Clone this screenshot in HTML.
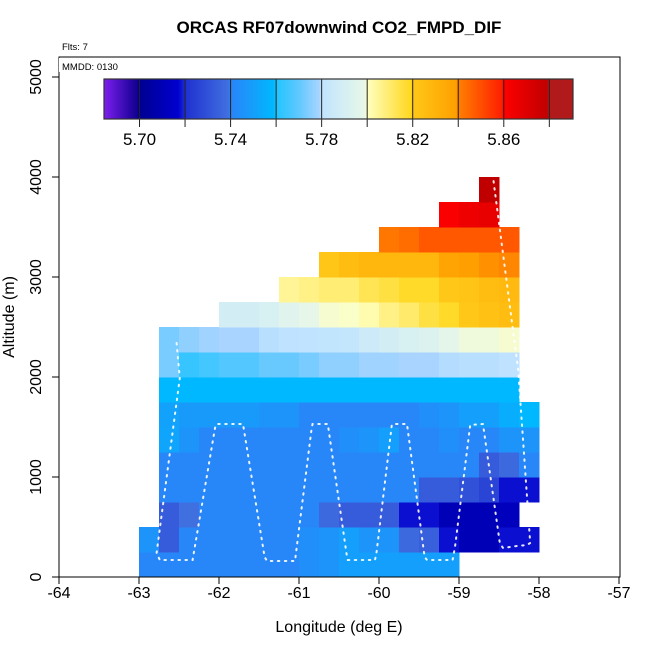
<!DOCTYPE html>
<html><head><meta charset="utf-8">
<style>
html,body{margin:0;padding:0;background:#fff;}
svg{display:block;font-family:"Liberation Sans",Arial,sans-serif;}
</style></head>
<body>
<svg id="chart" width="650" height="650" viewBox="0 0 650 650" xmlns="http://www.w3.org/2000/svg">
  <text x="339" y="33" font-size="17" font-weight="bold" text-anchor="middle">ORCAS RF07downwind CO2_FMPD_DIF</text>
  <text x="62" y="50" font-size="9.5">Flts: 7</text>
  <g id="cells"></g>
  <polyline id="track" fill="none" stroke="#ffffff" stroke-width="2" stroke-dasharray="1.5 5.5" stroke-linecap="round" opacity="0.9"/>
  <rect x="59" y="57" width="561" height="520" fill="none" stroke="#000" stroke-width="1"/>
  <g id="xaxis"></g>
  <g id="yaxis"></g>
  <text x="339" y="632" font-size="16" text-anchor="middle">Longitude (deg E)</text>
  <text x="0" y="0" font-size="16" text-anchor="middle" transform="translate(14,317) rotate(-90)">Altitude (m)</text>
  <g>
    <rect x="59" y="58" width="64" height="14" fill="#fff"/>
    <text x="62" y="70" font-size="9.5">MMDD: 0130</text>
  </g>
  <g id="legend"></g>
</svg>
<script>
// ---- data ----
var lonTicks = [-64, -63, -62, -61, -60, -59, -58, -57];
var altTicks = [0, 1000, 2000, 3000, 4000, 5000];
var legendTicks = [5.70, 5.74, 5.78, 5.82, 5.86];
var cellLonWidth = 0.25;
var cellAltHeight = 250;
var gridLon0 = -64;
// each row: bottom altitude, starting column index, values
var rowAlt = [0, 250, 500, 750, 1000, 1250, 1500, 1750, 2000, 2250, 2500, 2750, 3000, 3250, 3500, 3750];
var rowStart = [4, 4, 5, 5, 5, 5, 5, 5, 5, 5, 8, 11, 13, 16, 19, 21];
var rowValues = [
 [5.741,5.741,5.741,5.741,5.741,5.741,5.741,5.741,5.744,5.746,5.750,5.750,5.750,5.750,5.750,5.750],
 [5.746,5.733,5.741,5.741,5.741,5.741,5.741,5.741,5.744,5.746,5.750,5.746,5.746,5.737,5.734,5.718,5.710,5.710,5.718,5.718],
 [5.733,5.739,5.741,5.741,5.741,5.741,5.741,5.741,5.737,5.733,5.733,5.733,5.718,5.718,5.710,5.710,5.710,5.712],
 [5.741,5.741,5.741,5.741,5.741,5.741,5.741,5.741,5.741,5.741,5.741,5.741,5.741,5.733,5.733,5.730,5.726,5.718,5.718],
 [5.741,5.741,5.741,5.741,5.741,5.741,5.741,5.741,5.741,5.741,5.741,5.741,5.741,5.741,5.741,5.741,5.733,5.737,5.741],
 [5.752,5.746,5.741,5.741,5.741,5.741,5.741,5.741,5.741,5.744,5.746,5.750,5.741,5.741,5.744,5.741,5.741,5.746,5.746],
 [5.751,5.748,5.748,5.748,5.748,5.746,5.746,5.741,5.741,5.741,5.741,5.741,5.741,5.744,5.746,5.750,5.750,5.755,5.759],
 [5.759,5.759,5.759,5.759,5.759,5.759,5.759,5.759,5.759,5.759,5.759,5.759,5.759,5.759,5.759,5.759,5.759,5.759],
 [5.773,5.7635,5.7656,5.768,5.768,5.771,5.771,5.773,5.776,5.776,5.778,5.778,5.779,5.779,5.7795,5.7797,5.7797,5.7799],
 [5.773,5.776,5.778,5.779,5.779,5.7797,5.7799,5.780,5.781,5.782,5.786,5.789,5.791,5.793,5.797,5.7993,5.7993,5.7996],
 [5.789,5.789,5.791,5.795,5.798,5.7996,5.7998,5.802,5.807,5.810,5.815,5.818,5.820,5.823,5.825],
 [5.805,5.807,5.809,5.809,5.813,5.815,5.818,5.818,5.820,5.822,5.825,5.827],
 [5.821,5.825,5.828,5.828,5.828,5.828,5.837,5.839,5.8395,5.8398],
 [5.842,5.844,5.848,5.848,5.848,5.848,5.848],
 [5.8615,5.865,5.867],
 [5.879]
];
// flight track (lon, alt)
var trackLon = [-62.53,-62.49,-62.78,-62.74,-62.33,-62.05,-62.03,-61.7,-61.43,-61.4,-61.05,-60.84,-60.83,-60.64,-60.4,-60.39,-60.05,-60.03,-59.84,-59.83,-59.65,-59.43,-59.4,-59.08,-59.05,-58.86,-58.7,-58.49,-58.45,-58.28,-58.15,-58.11,-58.26,-58.57];
var trackAlt = [2340,1990,240,170,170,1490,1530,1530,200,160,160,1500,1530,1530,200,170,170,250,1520,1530,1530,200,170,170,300,1520,1530,340,290,310,320,340,2070,3970];
var cmapVals = [5.684,5.699,5.700,5.717,5.720,5.739,5.740,5.759,5.760,5.770,5.779,5.780,5.799,5.800,5.819,5.820,5.839,5.840,5.859,5.860,5.879,5.880,5.890];
var cmapCols = ['#8020f0','#100090','#000090','#0000d0','#2030d0','#4070e0','#2a84f8','#00b8ff','#20c4ff','#60c8ff','#a8d4ff','#c0e4ff','#e8f8e8','#ffffc0','#ffd820','#ffc818','#ffa000','#ff8000','#ff2000','#ff0000','#c00000','#b01a1a','#b01a1a'];

// ---- scales ----
var NS='http://www.w3.org/2000/svg';
function xs(lon){return 59 + (lon - gridLon0) * 80;}
function ys(alt){return 577 - alt * 0.1;}
function hex(c){return [parseInt(c.substr(1,2),16),parseInt(c.substr(3,2),16),parseInt(c.substr(5,2),16)];}
function cmap(v){
  if(v<=cmapVals[0]) return cmapCols[0];
  for(var i=0;i<cmapVals.length-1;i++){
    if(v<=cmapVals[i+1]){
      var t=(v-cmapVals[i])/(cmapVals[i+1]-cmapVals[i]);
      var a=hex(cmapCols[i]),b=hex(cmapCols[i+1]);
      return 'rgb('+Math.round(a[0]+(b[0]-a[0])*t)+','+Math.round(a[1]+(b[1]-a[1])*t)+','+Math.round(a[2]+(b[2]-a[2])*t)+')';
    }
  }
  return cmapCols[cmapCols.length-1];
}
function mk(tag,attrs,parent){var e=document.createElementNS(NS,tag);for(var k in attrs)e.setAttribute(k,attrs[k]);parent.appendChild(e);return e;}

// ---- heatmap ----
var cells=document.getElementById('cells');
for(var r=0;r<rowAlt.length;r++){
  for(var c=0;c<rowValues[r].length;c++){
    var lon=gridLon0+(rowStart[r]+c)*cellLonWidth;
    var x0=xs(lon),x1=xs(lon+cellLonWidth),y0=ys(rowAlt[r]+cellAltHeight),y1=ys(rowAlt[r]);
    var rc=mk('rect',{x:x0,y:y0,width:x1-x0+0.5,height:y1-y0+0.5,fill:cmap(rowValues[r][c]),'shape-rendering':'crispEdges'},cells);
    
    
  }
}

// ---- track ----
var pts=[];
for(var i=0;i<trackLon.length;i++) pts.push(xs(trackLon[i])+','+ys(trackAlt[i]));
document.getElementById('track').setAttribute('points',pts.join(' '));

// ---- axes ----
var xa=document.getElementById('xaxis');
lonTicks.forEach(function(t){
  var tk=mk('line',{x1:xs(t),x2:xs(t),y1:577,y2:584,stroke:'#000'},xa);
  
  
  var tl=mk('text',{x:xs(t),y:598,'font-size':16,'text-anchor':'middle'},xa);
  tl.textContent=t;
  
  
});
var ya=document.getElementById('yaxis');
altTicks.forEach(function(t){
  var tk=mk('line',{x1:52,x2:59,y1:ys(t),y2:ys(t),stroke:'#000'},ya);
  
  
  var tl=mk('text',{x:0,y:0,'font-size':16,'text-anchor':'middle',transform:'translate(41,'+ys(t)+') rotate(-90)'},ya);
  tl.textContent=t;
  
  
});

// ---- legend ----
var lg=document.getElementById('legend');
var lv0=5.6844,lv1=5.8904,lx0=104,lx1=573;
function ls(v){return lx0+(v-lv0)/(lv1-lv0)*(lx1-lx0);}
for(var px=lx0;px<lx1;px++){
  var v=lv0+(px-lx0+0.5)/(lx1-lx0)*(lv1-lv0);
  mk('rect',{x:px,y:79,width:1.2,height:40,fill:cmap(v),'shape-rendering':'crispEdges'},lg);
}
for(var d=5.70;d<5.885;d+=0.02){
  mk('line',{x1:ls(d),x2:ls(d),y1:79,y2:127,stroke:'#222','stroke-width':1},lg);
}
mk('rect',{x:lx0,y:79,width:lx1-lx0,height:40,fill:'none',stroke:'#333','stroke-width':1.2},lg);
legendTicks.forEach(function(t){
  var tl=mk('text',{x:ls(t),y:145,'font-size':17,'text-anchor':'middle'},lg);
  tl.textContent=t.toFixed(2);
  
  
});
</script>
</body></html>
